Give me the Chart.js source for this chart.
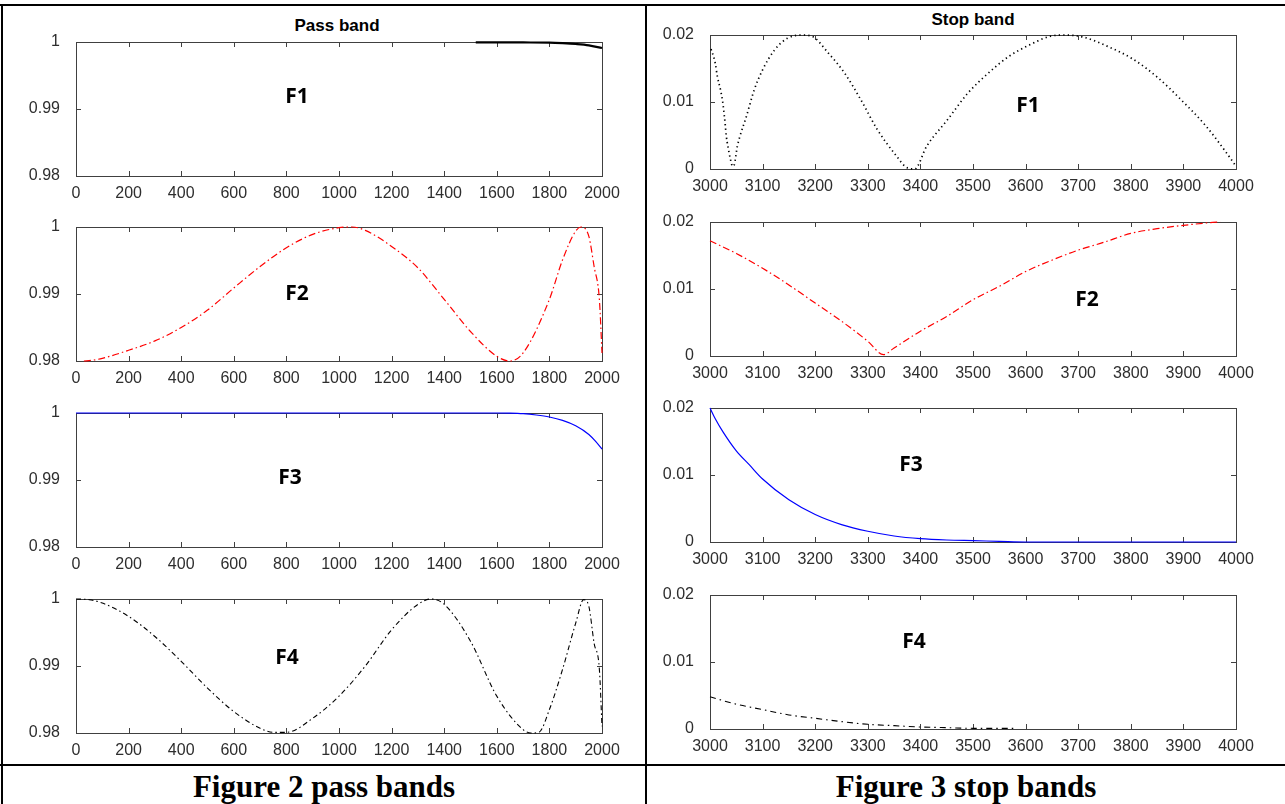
<!DOCTYPE html>
<html>
<head>
<meta charset="utf-8">
<script src="https://cdn.jsdelivr.net/npm/chart.js@4/dist/chart.umd.min.js"></script>
<style>
  html, body { margin: 0; padding: 0; background: #fff; }
  body { position: relative; width: 1285px; height: 804px; overflow: hidden; }
  .rule { position: absolute; background: #000; }
  .ttl { position: absolute; font: bold 17px "Liberation Sans", Arial, sans-serif; color: #000; transform: translate(-50%, -50%); white-space: nowrap; }
  .flab { position: absolute; font: bold 21px "Noto Sans", "Open Sans", sans-serif; color: #000; transform: translate(-50%, -50%); white-space: nowrap; }
  .cap { position: absolute; font: bold 31px "Liberation Serif", "Times New Roman", serif; color: #000; text-align: center; line-height: 34px; }
  canvas { position: absolute; }
</style>
</head>
<body>
<div class="rule" style="left:0;top:4px;width:1285px;height:2px"></div>
<div class="rule" style="left:1px;top:4px;width:2px;height:800px"></div>
<div class="rule" style="left:645px;top:4px;width:2px;height:800px"></div>
<div class="rule" style="left:0;top:764px;width:1285px;height:2px"></div>

<div class="ttl" style="left:337px;top:26px">Pass band</div>
<div class="ttl" style="left:973px;top:20px">Stop band</div>

<div class="cap" style="left:3px;top:770px;width:642px">Figure 2 pass bands</div>
<div class="cap" style="left:647px;top:770px;width:638px">Figure 3 stop bands</div>

<script>
// tick values and labels
const passXTicks = [0, 200, 400, 600, 800, 1000, 1200, 1400, 1600, 1800, 2000]
const passXLabels = ['0', '200', '400', '600', '800', '1000', '1200', '1400', '1600', '1800', '2000']
const passYTicks = [0.98, 0.99, 1]
const passYLabels = ['0.98', '0.99', '1']
const stopXTicks = [3000, 3100, 3200, 3300, 3400, 3500, 3600, 3700, 3800, 3900, 4000]
const stopXLabels = ['3000', '3100', '3200', '3300', '3400', '3500', '3600', '3700', '3800', '3900', '4000']
const stopYTicks = [0, 0.01, 0.02]
const stopYLabels = ['0', '0.01', '0.02']

// pass band responses
const passF1X = [1520, 1600, 1700, 1800, 1850, 1900, 1950, 2000]
const passF1Y = [0.99995, 0.99995, 0.99993, 0.9999, 0.99982, 0.9997, 0.9995, 0.9991]

const passF2X = [30, 60, 100, 200, 300, 400, 500, 600, 700, 800, 900, 1000, 1050, 1100, 1200, 1300, 1400, 1500, 1600, 1650, 1700, 1800, 1850, 1900, 1920, 1950, 1970, 1990, 2000]
const passF2Y = [0.98, 0.9801, 0.9804, 0.9816, 0.983, 0.985, 0.9876, 0.9909, 0.9941, 0.9969, 0.9989, 0.9999, 1.0, 0.9995, 0.9971, 0.9939, 0.9892, 0.9844, 0.9807, 0.98, 0.9812, 0.9892, 0.9951, 0.9994, 1.0, 0.9986, 0.9941, 0.9892, 0.9812]

const passF3X = [0, 1600, 1650, 1700, 1750, 1800, 1850, 1900, 1950, 1975, 2000]
const passF3Y = [1, 1, 0.99998, 0.9999, 0.9997, 0.9994, 0.9989, 0.9981, 0.9968, 0.9958, 0.9946]

const passF4X = [0, 50, 100, 200, 300, 400, 500, 600, 700, 750, 800, 900, 1000, 1100, 1200, 1300, 1350, 1400, 1500, 1600, 1700, 1730, 1760, 1800, 1850, 1900, 1930, 1950, 1970, 1990, 2000]
const passF4Y = [1.0, 0.9999, 0.9994, 0.9974, 0.9944, 0.9907, 0.9867, 0.9832, 0.9807, 0.9801, 0.9801, 0.9822, 0.9855, 0.99, 0.9954, 0.9992, 1.0, 0.9992, 0.9937, 0.9855, 0.9805, 0.98, 0.9801, 0.9835, 0.9895, 0.9964, 0.9999, 0.9989, 0.9934, 0.9895, 0.981]

// stop band responses
const stopF1X = [3002, 3010, 3014, 3020, 3024, 3027, 3029, 3031, 3034, 3039, 3043, 3046, 3052, 3057, 3069, 3084, 3100, 3123, 3147, 3174, 3194, 3225, 3256, 3287, 3318, 3350, 3377, 3389, 3412, 3451, 3490, 3529, 3568, 3607, 3646, 3674, 3709, 3756, 3802, 3849, 3896, 3943, 3982, 4000]
const stopF1Y = [0.0179, 0.0158, 0.0138, 0.0118, 0.0101, 0.0081, 0.0066, 0.0049, 0.0034, 0.0014, 0.0004, 0.0006, 0.0034, 0.0049, 0.0078, 0.0118, 0.0148, 0.0178, 0.0195, 0.02, 0.0198, 0.0173, 0.0143, 0.0103, 0.0059, 0.0024, 0.0001, 0.0, 0.0034, 0.0073, 0.0113, 0.0143, 0.0168, 0.0185, 0.0198, 0.02, 0.0197, 0.0183, 0.0165, 0.0138, 0.0103, 0.0064, 0.0024, 0.0004]

const stopF2X = [3000, 3050, 3100, 3150, 3200, 3250, 3300, 3330, 3350, 3400, 3450, 3500, 3550, 3600, 3650, 3700, 3750, 3800, 3850, 3900, 3950, 3970]
const stopF2Y = [0.0172, 0.0153, 0.0131, 0.0106, 0.0079, 0.0052, 0.0022, 0.0002, 0.0012, 0.0037, 0.0059, 0.0084, 0.0104, 0.0126, 0.0143, 0.0158, 0.017, 0.0183, 0.019, 0.0195, 0.0199, 0.02]

const stopF3X = [3000, 3010, 3025, 3050, 3075, 3100, 3150, 3200, 3250, 3300, 3350, 3400, 3450, 3500, 3550, 3600, 4000]
const stopF3Y = [0.02, 0.0184, 0.0164, 0.0136, 0.0115, 0.0094, 0.0063, 0.0041, 0.0026, 0.0016, 0.0009, 0.0005, 0.0003, 0.0002, 0.0001, 0, 0]

const stopF4X = [3000, 3050, 3100, 3150, 3200, 3250, 3300, 3350, 3400, 3450, 3500, 3580]
const stopF4Y = [0.0048, 0.0037, 0.0029, 0.0021, 0.0016, 0.0011, 0.0007, 0.0005, 0.0003, 0.0002, 0.0001, 0.0001]

const tickFont = {family: '"Liberation Sans", Arial, sans-serif', size: 16}
const tickColor = '#2e2e2e'

// matlab style box with inward ticks
const boxPlugin = {
    id: 'box',
    beforeDatasetsDraw(chart) {
        const ctx = chart.ctx
        const a = chart.chartArea
        const xs = chart.scales.x
        const ys = chart.scales.y
        ctx.save()
        ctx.strokeStyle = '#404040'
        ctx.lineWidth = 1
        ctx.strokeRect(Math.round(a.left) + 0.5, Math.round(a.top) + 0.5, Math.round(a.width), Math.round(a.height))
        ctx.beginPath()
        xs.ticks.forEach(t => {
            var px = Math.round(xs.getPixelForValue(t.value)) + 0.5
            ctx.moveTo(px, a.bottom); ctx.lineTo(px, a.bottom - 5)
            ctx.moveTo(px, a.top); ctx.lineTo(px, a.top + 5)
        })
        ys.ticks.forEach(t => {
            var py = Math.round(ys.getPixelForValue(t.value)) + 0.5
            ctx.moveTo(a.left, py); ctx.lineTo(a.left + 5, py)
            ctx.moveTo(a.right, py); ctx.lineTo(a.right - 5, py)
        })
        ctx.stroke()
        ctx.restore()
    }
}

function makePanel(p) {
    var yw = 60, pt = 22, pr = 22, xh = 28
    var canvas = document.createElement('canvas')
    canvas.width = yw + p.w + pr
    canvas.height = pt + p.h + xh
    canvas.style.left = (p.left - yw) + 'px'
    canvas.style.top = (p.top - pt) + 'px'
    document.body.appendChild(canvas)

    var pass = p.band == 'pass'
    var xTicks = pass ? passXTicks : stopXTicks
    var xLabels = pass ? passXLabels : stopXLabels
    var yTicks = pass ? passYTicks : stopYTicks
    var yLabels = pass ? passYLabels : stopYLabels

    new Chart(canvas, {
        type: 'line',
        data: {
            datasets: [{
                data: p.xs.map((x, i) => ({x: x, y: p.ys[i]})),
                borderColor: p.color,
                borderWidth: p.width,
                borderDash: p.dash,
                pointRadius: 0,
                fill: false,
                cubicInterpolationMode: 'monotone',
                clip: 2
            }]
        },
        options: {
            responsive: false,
            animation: false,
            layout: {padding: {top: pt, right: pr, left: 0, bottom: 0}},
            plugins: {legend: {display: false}, tooltip: {enabled: false}},
            scales: {
                x: {
                    type: 'linear',
                    min: xTicks[0],
                    max: xTicks[xTicks.length - 1],
                    grid: {display: false},
                    border: {display: false},
                    afterBuildTicks: s => { s.ticks = xTicks.map(v => ({value: v})) },
                    afterFit: s => { s.height = xh },
                    ticks: {
                        font: tickFont, color: tickColor, padding: 0, maxRotation: 0, autoSkip: false,
                        callback: v => xLabels[xTicks.indexOf(v)]
                    }
                },
                y: {
                    type: 'linear',
                    min: yTicks[0],
                    max: yTicks[yTicks.length - 1],
                    grid: {display: false},
                    border: {display: false},
                    afterBuildTicks: s => { s.ticks = yTicks.map(v => ({value: v})) },
                    afterFit: s => { s.width = yw },
                    ticks: {
                        font: tickFont, color: tickColor, padding: 8,
                        callback: v => yLabels[yTicks.indexOf(v)]
                    }
                }
            }
        },
        plugins: [boxPlugin]
    })
}

const panels = [
    {band: 'pass', left: 76, top: 42, w: 526, h: 134, xs: passF1X, ys: passF1Y, color: '#000', width: 2.2, dash: []},
    {band: 'pass', left: 76, top: 227, w: 526, h: 134, xs: passF2X, ys: passF2Y, color: '#ff0000', width: 1.2, dash: [7, 3, 1.5, 3]},
    {band: 'pass', left: 76, top: 413, w: 526, h: 134, xs: passF3X, ys: passF3Y, color: '#0000ff', width: 1.2, dash: []},
    {band: 'pass', left: 76, top: 599, w: 526, h: 134, xs: passF4X, ys: passF4Y, color: '#000', width: 1.1, dash: [5, 3, 1.5, 3]},
    {band: 'stop', left: 710, top: 35, w: 526, h: 134, xs: stopF1X, ys: stopF1Y, color: '#000', width: 1.7, dash: [1.3, 3.2]},
    {band: 'stop', left: 710, top: 222, w: 526, h: 134, xs: stopF2X, ys: stopF2Y, color: '#ff0000', width: 1.2, dash: [7, 3, 1.5, 3]},
    {band: 'stop', left: 710, top: 408, w: 526, h: 134, xs: stopF3X, ys: stopF3Y, color: '#0000ff', width: 1.2, dash: []},
    {band: 'stop', left: 710, top: 595, w: 526, h: 134, xs: stopF4X, ys: stopF4Y, color: '#000', width: 1.1, dash: [6, 4, 1.5, 4]}
]

panels.forEach(p => makePanel(p))

// curve names inside the plots
const fLabels = [
    ['F1', 297, 95], ['F2', 297, 292], ['F3', 290, 476], ['F4', 287, 656],
    ['F1', 1028, 104], ['F2', 1087, 298], ['F3', 911, 463], ['F4', 914, 640]
]
fLabels.forEach(f => {
    var d = document.createElement('div')
    d.className = 'flab'
    d.textContent = f[0]
    d.style.left = f[1] + 'px'
    d.style.top = f[2] + 'px'
    document.body.appendChild(d)
})
</script>
</body>
</html>
